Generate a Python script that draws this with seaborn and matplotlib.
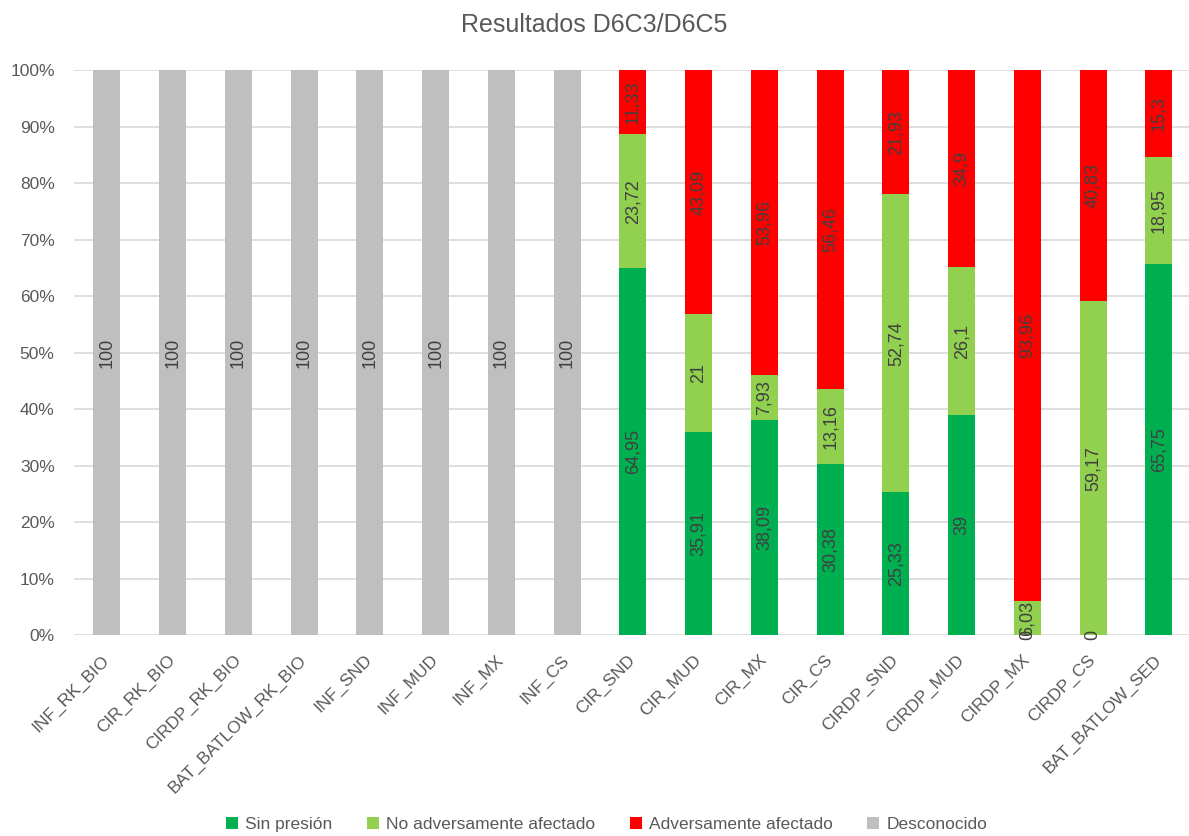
import numpy as np
import pandas as pd
import matplotlib
matplotlib.use("Agg")
import matplotlib.pyplot as plt
import matplotlib.transforms as mtransforms
import seaborn as sns
from matplotlib.patches import Patch

categories = ["INF_RK_BIO", "CIR_RK_BIO", "CIRDP_RK_BIO", "BAT_BATLOW_RK_BIO", "INF_SND",
              "INF_MUD", "INF_MX", "INF_CS", "CIR_SND", "CIR_MUD", "CIR_MX", "CIR_CS",
              "CIRDP_SND", "CIRDP_MUD", "CIRDP_MX", "CIRDP_CS", "BAT_BATLOW_SED"]
nan = np.nan
sin_presion = [nan, nan, nan, nan, nan, nan, nan, nan, 64.95, 35.91, 38.09, 30.38, 25.33, 39, 0, 0, 65.75]
no_adverso = [nan, nan, nan, nan, nan, nan, nan, nan, 23.72, 21, 7.93, 13.16, 52.74, 26.1, 6.03, 59.17, 18.95]
adverso = [nan, nan, nan, nan, nan, nan, nan, nan, 11.33, 43.09, 53.96, 56.46, 21.93, 34.9, 93.96, 40.83, 15.3]
desconocido = [100, 100, 100, 100, 100, 100, 100, 100, nan, nan, nan, nan, nan, nan, nan, nan, nan]

series_names = ["Sin presión", "No adversamente afectado", "Adversamente afectado", "Desconocido"]
series_vals = [sin_presion, no_adverso, adverso, desconocido]
colors = ["#00B050", "#92D050", "#FF0000", "#BFBFBF"]

sns.set_theme(style="white")
plt.rcParams["font.family"] = ["Liberation Sans", "DejaVu Sans"]

fig = plt.figure(figsize=(11.89, 8.36), dpi=100)
ax = fig.add_axes([0.0623, 0.240, 0.940, 0.676])

vals = np.array([np.nan_to_num(np.array(v, dtype=float)) for v in series_vals])
totals = vals.sum(axis=0)
pct = vals / totals * 100
cum = np.cumsum(pct, axis=0)

# draw from top of stack down so lower segments overlay
for i in range(len(series_names) - 1, -1, -1):
    df = pd.DataFrame({"cat": categories, "val": cum[i]})
    sns.barplot(data=df, x="cat", y="val", color=colors[i], width=0.41,
                saturation=1, ax=ax, zorder=3, edgecolor="none", linewidth=0)

# data labels
for i, v in enumerate(series_vals):
    bottoms = cum[i] - pct[i]
    for j, val in enumerate(v):
        if np.isnan(val):
            continue
        y = bottoms[j] + pct[i][j] / 2
        txt = f"{val:g}".replace(".", ",")
        ax.text(j, y, txt, rotation=90, ha="center", va="center",
                fontsize=13, color="#404040", zorder=5)

ax.set_ylim(0, 100)
ax.set_xlim(-0.5, len(categories) - 0.5)
ax.set_yticks(np.arange(0, 101, 10))
ax.set_yticklabels([f"{t}%" for t in range(0, 101, 10)], fontsize=12.5, color="#595959")
ax.set_xticks(range(len(categories)))
ax.set_xticklabels(categories, rotation=45, ha="right", va="center", rotation_mode="anchor",
                   fontsize=12.5, color="#595959")
offset = mtransforms.ScaledTranslation(8 / 100, 0, fig.dpi_scale_trans)
for lab in ax.get_xticklabels():
    lab.set_transform(lab.get_transform() + offset)
ax.tick_params(axis="x", length=0, pad=16)
ax.tick_params(axis="y", length=0, pad=14)
ax.yaxis.grid(True, color="#D9D9D9", linewidth=1.2, zorder=0)
ax.set_axisbelow(True)
for s in ax.spines.values():
    s.set_visible(False)
ax.set_xlabel("")
ax.set_ylabel("")

fig.suptitle("Resultados D6C3/D6C5", y=0.985, fontsize=18, color="#595959")

handles = [Patch(facecolor=c, edgecolor="none") for c in colors]
fig.legend(handles, series_names, loc="lower center", ncol=4, frameon=False,
           bbox_to_anchor=(0.51, -0.014), fontsize=12.5, handlelength=0.7, handleheight=0.7,
           columnspacing=2.0, handletextpad=0.4, labelcolor="#595959")

fig.savefig("out.png", dpi=100)
